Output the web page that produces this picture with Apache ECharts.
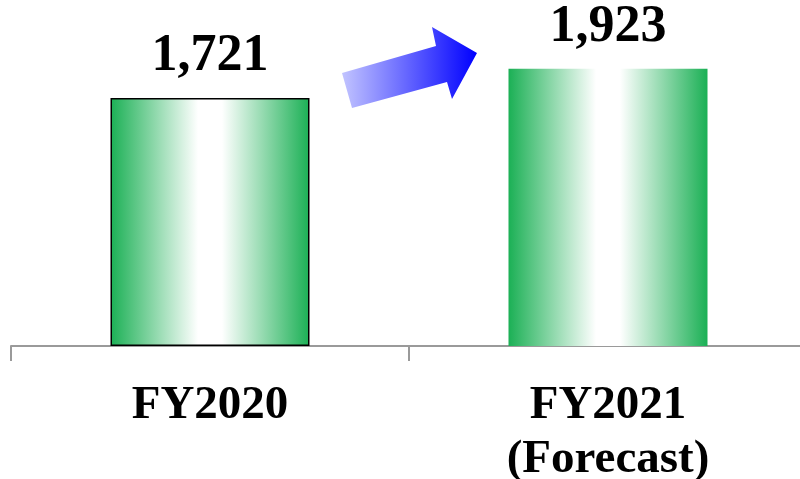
<!DOCTYPE html>
<html>
<head>
<meta charset="utf-8">
<script src="https://cdn.jsdelivr.net/npm/echarts@6/dist/echarts.min.js"></script>
<style>
  html, body { margin: 0; padding: 0; background: #fff; }
  #main { width: 800px; height: 479px; }
</style>
</head>
<body>
<div id="main"></div>
<script>
// data
const categories = ['FY2020', 'FY2021\n(Forecast)']
const values = [1721, 1923]
const hasBorder = [true, false]

const green = '#1bb055'
const barFill = new echarts.graphic.LinearGradient(0, 0, 1, 0, [
  {offset: 0, color: green},
  {offset: 0.44, color: '#ffffff'},
  {offset: 0.56, color: '#ffffff'},
  {offset: 1, color: green}
])

const chart = echarts.init(document.getElementById('main'))

chart.setOption({
  animation: false,
  // category band runs past the right edge, so the last tick is cut off
  grid: {left: 11, width: 796, top: 0, bottom: 133, outerBoundsMode: 'none', containLabel: false},
  xAxis: {
    type: 'category',
    data: categories,
    axisLine: {lineStyle: {color: '#9a9a9a', width: 2}},
    axisTick: {show: true, length: 15, lineStyle: {color: '#9a9a9a', width: 2}},
    axisLabel: {
      margin: 33,
      fontFamily: 'Liberation Serif',
      fontWeight: 'bold',
      fontSize: 47,
      lineHeight: 54,
      color: '#000'
    }
  },
  yAxis: {type: 'value', min: 0, max: 2400, show: false, splitLine: {show: false}},
  series: [{
    type: 'bar',
    barWidth: '50%',
    data: values.map((v, i) => ({
      value: v,
      itemStyle: {
        color: barFill,
        borderColor: hasBorder[i] ? '#000' : 'transparent',
        borderWidth: hasBorder[i] ? 1.5 : 0
      }
    })),
    label: {
      show: true,
      position: 'top',
      distance: 15,
      fontFamily: 'Liberation Serif',
      fontWeight: 'bold',
      fontSize: 52,
      color: '#000',
      formatter: p => p.value.toLocaleString('en-US')
    }
  }],
  // the blue arrow between the bars
  graphic: [{
    type: 'polygon',
    shape: {
      points: [[342, 73], [436, 46], [432, 27], [477, 53], [452, 99], [447, 82], [352, 108]]
    },
    style: {
      fill: new echarts.graphic.LinearGradient(0, 0, 1, 0, [
        {offset: 0, color: '#c2c4ff'},
        {offset: 1, color: '#0000ff'}
      ])
    }
  }]
})
</script>
</body>
</html>
